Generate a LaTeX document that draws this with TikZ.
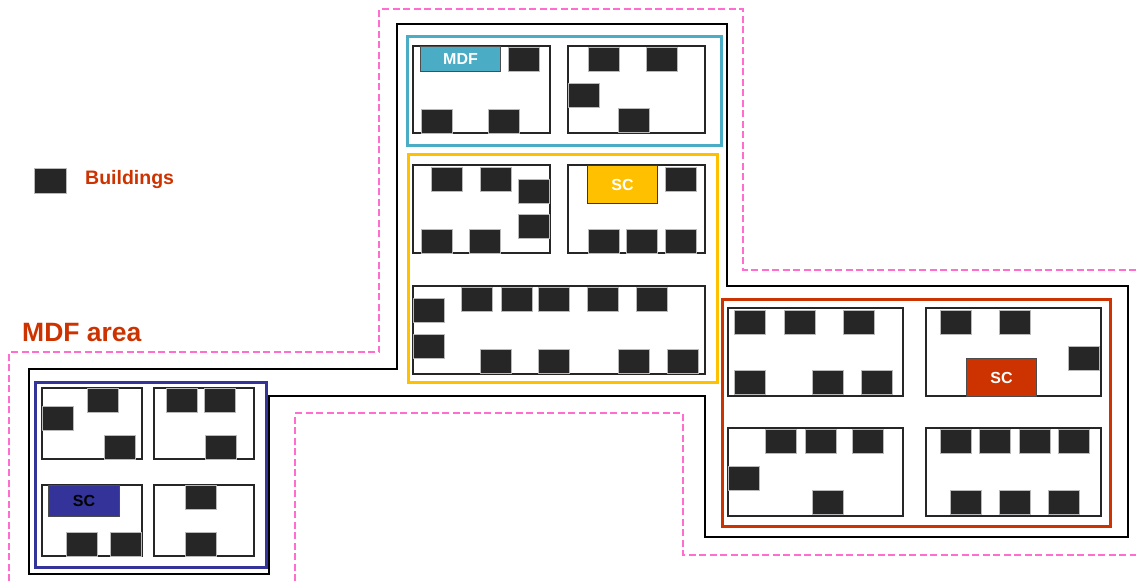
\documentclass[tikz,border=0pt]{standalone}
\usepackage{fontspec}
\setmainfont{Liberation Sans}
\usepackage{xcolor}
\usepackage{tikz}
\usetikzlibrary{positioning, calc}

\definecolor{campuspink}{HTML}{FF6ECF}
\definecolor{mdfcyan}{HTML}{4BACC6}
\definecolor{scyellow}{HTML}{FFC000}
\definecolor{scred}{HTML}{CC3300}
\definecolor{scblue}{HTML}{333399}
\definecolor{bldgray}{HTML}{262626}

\begin{document}
\begin{tikzpicture}[
  x=1pt, y=-1pt,
  campus/.style={draw=campuspink, line width=2.4pt, dash pattern=on 7pt off 3.5pt},
  outline/.style={draw=black, line width=2pt},
  zone/.style={line width=3pt},
  block/.style={draw=black!85, fill=white, line width=1.3pt},
  bldg/.style={draw=gray!55, fill=bldgray, line width=0.6pt},
  tag/.style={draw=black!70, line width=1pt, inner sep=0pt, anchor=north west,
    font=\fontsize{16}{18}\selectfont\bfseries, text=white},
  legend/.style={inner sep=0pt, text=scred, font=\bfseries},
]
  \useasboundingbox (0,0) rectangle (1136,581);

  % campus boundaries
  \draw[campus] (9,581) -- (9,352) -- (379,352) -- (379,9) -- (743,9) -- (743,270) -- (1136,270);
  \draw[campus] (295,581) -- (295,413) -- (683,413) -- (683,555) -- (1136,555);
  \draw[outline] (397,24) -- (727,24) -- (727,286) -- (1128,286) -- (1128,537) -- (705,537)
    -- (705,396) -- (269,396) -- (269,574) -- (29,574) -- (29,369) -- (397,369) -- cycle;

  % service zones
  \draw[zone, mdfcyan]   (407,36)  rectangle (721,145);
  \draw[zone, scyellow]  (408,154) rectangle (717,382);
  \draw[zone, scred]     (722,299) rectangle (1110,526);
  \draw[zone, scblue]    (35,382)  rectangle (266,567);

  % blocks
  \foreach \xa/\ya/\xb/\yb in {413/46/550/133, 568/46/705/133, 413/165/550/253, 568/165/705/253,
      413/286/705/374, 728/308/903/396, 926/308/1101/396, 728/428/903/516, 926/428/1101/516,
      42/388/142/459, 154/388/254/459, 42/485/142/556, 154/485/254/556}
    \draw[block] (\xa,\ya) rectangle (\xb,\yb);

  % buildings
  \foreach \x/\y in {508/47, 421/109, 488/109, 588/47, 646/47, 568/83, 618/108,
      431/167, 480/167, 518/179, 518/214, 421/229, 469/229,
      665/167, 588/229, 626/229, 665/229,
      413/298, 413/334, 461/287, 501/287, 538/287, 587/287, 636/287,
      480/349, 538/349, 618/349, 667/349,
      734/310, 784/310, 843/310, 734/370, 812/370, 861/370,
      940/310, 999/310, 1068/346,
      765/429, 805/429, 852/429, 728/466, 812/490,
      940/429, 979/429, 1019/429, 1058/429, 950/490, 999/490, 1048/490,
      87/388, 42/406, 104/435, 166/388, 204/388, 205/435,
      66/532, 110/532, 185/485, 185/532}
    \draw[bldg] (\x,\y) rectangle +(31.5,24.5);

  % MDF and SC tags
  \node (mdf) [tag, fill=mdfcyan, minimum width=80pt, minimum height=25pt] at (420,46) {MDF};
  \node (scy) [tag, fill=scyellow, draw=black!60!brown, minimum width=70pt, minimum height=38pt] at (587,165) {SC};
  \node (scr) [tag, fill=scred, minimum width=70pt, minimum height=38pt] at (966,358) {SC};
  \node (scb) [tag, fill=scblue, text=black, minimum width=71pt, minimum height=31pt] at (48,485) {SC};

  % legend
  \draw[bldg] (34,168) rectangle +(32,25);
  \node (lgd) [legend, anchor=base west, font=\fontsize{19.5}{22}\selectfont\bfseries] at (85,184) {Buildings};
  \node (area) [legend, anchor=west, font=\fontsize{26.5}{30}\selectfont\bfseries] at (22,333) {MDF area};
\end{tikzpicture}
\end{document}
